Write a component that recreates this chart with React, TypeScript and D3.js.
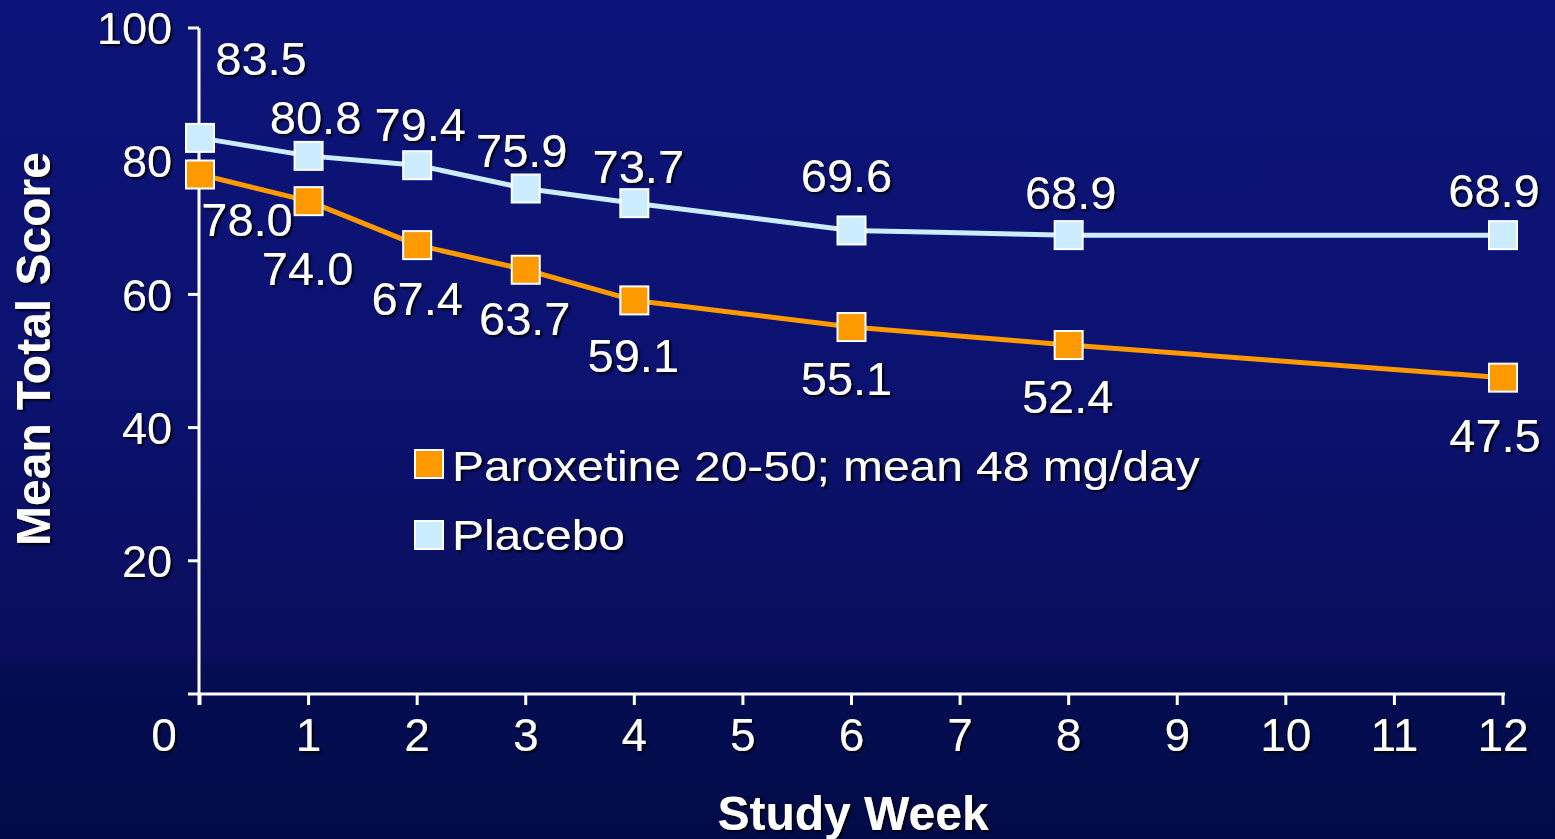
import React from "react";
import * as d3 from "d3";

const weeks = [0, 1, 2, 3, 4, 6, 8, 12];
const paroxetine = [78.0, 74.0, 67.4, 63.7, 59.1, 55.1, 52.4, 47.5];
const placebo = [83.5, 80.8, 79.4, 75.9, 73.7, 69.6, 68.9, 68.9];
const xTicks = [0, 1, 2, 3, 4, 5, 6, 7, 8, 9, 10, 11, 12];
const yTicks = [0, 20, 40, 60, 80, 100];
const yTickLabels = ["", "20", "40", "60", "80", "100"];
const legendLabels = ["Paroxetine 20-50; mean 48 mg/day", "Placebo"];

// label placement offsets (layout only)
const placeboLabelOffsets: [number, number][] = [
  [61, -80], [7, -39], [3, -41], [-4, -38], [4, -37], [-5, -55], [2, -43], [-9, -45],
];
const paroxLabelOffsets: [number, number][] = [
  [47, 45], [-1, 67], [0, 53], [-1, 48], [-1, 55], [-5, 51], [-1, 51], [-8, 57],
];

const W = 1555;
const H = 839;
const FONT = "'Liberation Sans', Arial, Helvetica, sans-serif";
const ORANGE = "#FF9900";
const LIGHTBLUE = "#CCECFF";

export default function App() {
  const x = d3.scaleLinear().domain([0, 12]).range([200, 1503]);
  const y = d3.scaleLinear().domain([0, 100]).range([694, 28]);
  const line = d3
    .line<number>()
    .x((_, i) => x(weeks[i]))
    .y((d) => y(d));

  const series = [
    { values: placebo, color: LIGHTBLUE, offsets: placeboLabelOffsets },
    { values: paroxetine, color: ORANGE, offsets: paroxLabelOffsets },
  ];
  const ms = 28;

  return (
    <svg
      width={W}
      height={H}
      style={{ position: "fixed", left: 0, top: 0, display: "block" }}
      fontFamily={FONT}
    >
      <defs>
        <linearGradient id="bg" x1="0" y1="0" x2="0" y2="1">
          <stop offset="0" stopColor="#0c1479" />
          <stop offset="0.45" stopColor="#0b1270" />
          <stop offset="0.78" stopColor="#0a0e5c" />
          <stop offset="0.8" stopColor="#040d52" />
          <stop offset="1" stopColor="#020b48" />
        </linearGradient>
        <filter id="sh" x="-10%" y="-10%" width="130%" height="140%">
          <feDropShadow dx="2" dy="2" stdDeviation="0.8" floodColor="#000" floodOpacity="0.9" />
        </filter>
      </defs>
      <rect x={0} y={0} width={W} height={H} fill="url(#bg)" />

      {/* axes */}
      <g stroke="#fff" strokeWidth={3} fill="none">
        <line x1={x(0) - 1} y1={y(100)} x2={x(0) - 1} y2={705} />
        <line x1={x(0) - 1} y1={y(0)} x2={x(12) + 2} y2={y(0)} />
        {yTicks.map((t) => (
          <line key={"yt" + t} x1={188} x2={x(0) - 1} y1={y(t)} y2={y(t)} />
        ))}
        {xTicks.map((t) => (
          <line key={"xt" + t} x1={x(t)} x2={x(t)} y1={y(0)} y2={705} />
        ))}
      </g>

      {/* tick labels */}
      <g fill="#fff" filter="url(#sh)">
        {yTicks.map((t, i) =>
          yTickLabels[i] ? (
            <text key={"yl" + t} x={172} y={y(t)} dy="0.36em" textAnchor="end" fontSize={45}>
              {yTickLabels[i]}
            </text>
          ) : null
        )}
        {xTicks.map((t) => (
          <text
            key={"xl" + t}
            x={t === 0 ? x(t) - 36 : x(t)}
            y={751}
            textAnchor="middle"
            fontSize={46}
          >
            {t}
          </text>
        ))}
      </g>

      {/* axis titles */}
      <g fill="#fff" fontSize={48} fontWeight="bold" filter="url(#sh)">
        <text x={853} y={830} textAnchor="middle">
          Study Week
        </text>
        <text transform="translate(50,349) rotate(-90)" textAnchor="middle">
          Mean Total Score
        </text>
      </g>

      {/* lines */}
      {series.map((s, si) => (
        <path
          key={"l" + si}
          d={line(s.values) || ""}
          fill="none"
          stroke={s.color}
          strokeWidth={5}
          strokeLinejoin="round"
        />
      ))}

      {/* markers */}
      {series.map((s, si) => (
        <g key={"m" + si}>
          {s.values.map((v, i) => (
            <rect
              key={i}
              x={x(weeks[i]) - ms / 2}
              y={y(v) - ms / 2}
              width={ms}
              height={ms}
              fill={s.color}
              stroke="#fff"
              strokeWidth={2}
            />
          ))}
        </g>
      ))}

      {/* data labels */}
      <g fill="#fff" fontSize={47} filter="url(#sh)">
        {series.map((s, si) =>
          s.values.map((v, i) => (
            <text
              key={si + "-" + i}
              x={x(weeks[i]) + s.offsets[i][0]}
              y={y(v) + s.offsets[i][1]}
              dy="0.36em"
              textAnchor="middle"
            >
              {v.toFixed(1)}
            </text>
          ))
        )}
      </g>

      {/* legend */}
      <g>
        {[ORANGE, LIGHTBLUE].map((c, i) => (
          <g key={"lg" + i}>
            <rect
              x={415}
              y={(i === 0 ? 464 : 535) - 14}
              width={28}
              height={28}
              fill={c}
              stroke="#fff"
              strokeWidth={2}
            />
            <text
              transform={`translate(452,${i === 0 ? 481 : 550}) scale(1.14,1)`}
              fill="#fff"
              fontSize={42}
              filter="url(#sh)"
            >
              {legendLabels[i]}
            </text>
          </g>
        ))}
      </g>
    </svg>
  );
}
